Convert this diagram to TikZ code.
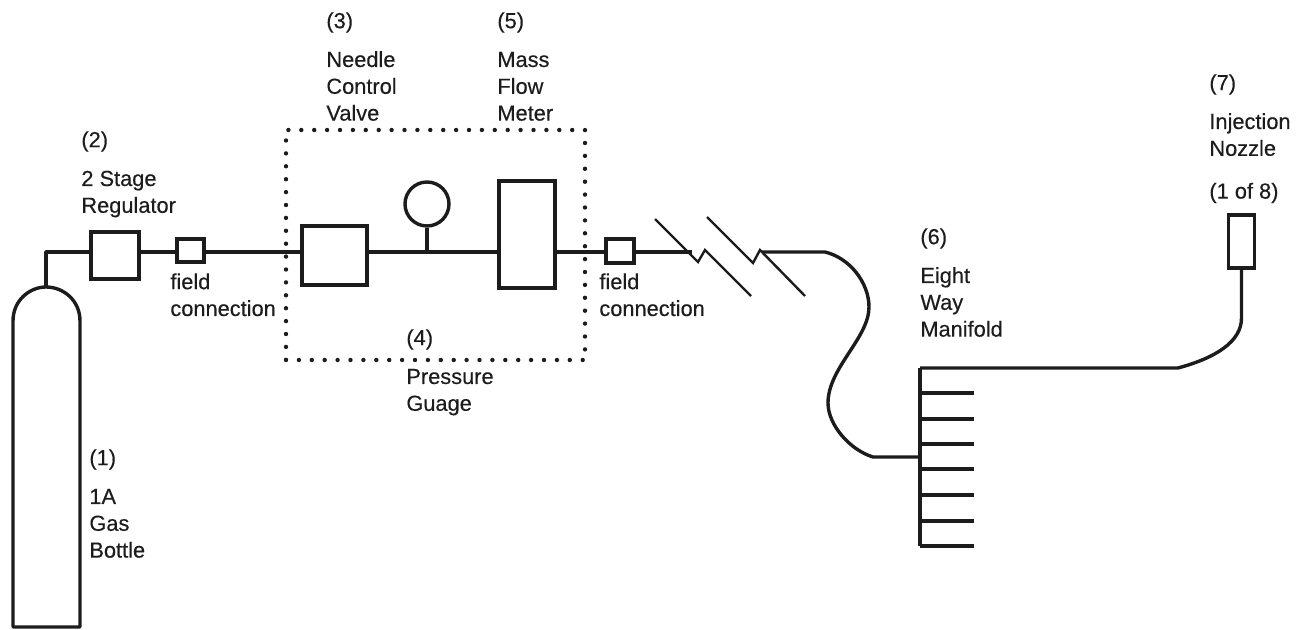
\documentclass[tikz,border=0pt]{standalone}
\usepackage{fontspec}
\setmainfont{Liberation Sans}[RawFeature={embolden=0.3}]
\usetikzlibrary{positioning}
\definecolor{tinta}{HTML}{1C1C1C}
\tikzset{
  pipe/.style={tinta,line width=1.7pt,line join=round},
  thinpipe/.style={tinta,line width=1.2pt,line join=miter},
  unitbox/.style={draw=tinta,line width=1.7pt,inner sep=0pt,fill=white},
  lbl/.style={tinta,font=\fontsize{10.9}{13.4}\selectfont,align=left,anchor=north west,inner sep=0pt}
}
\begin{document}
\begin{tikzpicture}[x=0.5pt,y=-0.5pt]
        \useasboundingbox (0,0) rectangle (1307,630);
        % bottle
        \draw[pipe] (13,627) -- (13,321) .. controls (13,300) and (30,287) .. (46,287)
          .. controls (63,287) and (80,300) .. (80,321) -- (80,627) -- cycle;
        \coordinate (bottletop) at (46,287);
        \coordinate (bend) at (46,252);
        % dotted enclosure
        \node[draw=tinta,line width=2.2pt,line cap=round,dash pattern=on 0pt off 6.45pt,
          minimum width=149.5pt,minimum height=115pt,inner sep=0pt] (enclosure) at (435.5,245) {};
        % units along the line
        \node[unitbox,minimum width=24pt,minimum height=23.5pt] (regulator) at (115,255.5) {};
        \node[unitbox,minimum width=13.5pt,minimum height=11.5pt] (fieldleft) at (190.5,250.5) {};
        \node[unitbox,minimum width=32.5pt,minimum height=29.5pt] (needle) at (334.5,255.5) {};
        \node[unitbox,minimum width=28pt,minimum height=53.5pt] (meter) at (527,234.5) {};
        \node[unitbox,circle,minimum size=22pt] (gauge) at (427,204) {};
        \node[unitbox,minimum width=14pt,minimum height=12pt] (fieldright) at (620,251) {};
        \node[unitbox,minimum width=13pt,minimum height=26.5pt] (nozzle) at (1241.5,241.5) {};
        \coordinate (gaugetee) at (427,252);
        \coordinate (breakin) at (692,252);
        \coordinate (breakout) at (762,252);
        \draw[pipe] (bottletop) -- (bend) -- (bend -| regulator.west);
        \draw[pipe] (regulator.east |- gaugetee) -- (gaugetee -| fieldleft.west);
        \draw[pipe] (gaugetee -| fieldleft.east) -- (gaugetee -| needle.west);
        \draw[pipe] (needle.east |- gaugetee) -- (gaugetee -| meter.west);
        \draw[pipe] (gauge.south) -- (gaugetee);
        \draw[pipe] (gaugetee -| meter.east) -- (gaugetee -| fieldright.west);
        \draw[pipe] (gaugetee -| fieldright.east) -- (breakin);
        % line breaks
        \draw[thinpipe] (655,219) -- (698,262) -- (705,250) -- (751,296);
        \draw[thinpipe] (707,217) -- (753,263) -- (760,250) -- (805,296);
        % manifold
        \coordinate (manifoldtop) at (920,368);
        \coordinate (manifoldin) at (920,457);
        \draw[pipe] (breakout) -- (825,252) .. controls (850,258) and (869,283) .. (869,307)
          .. controls (869,338) and (828,368) .. (828,403)
          .. controls (828,425) and (850,450) .. (873,457) -- (manifoldin);
        \draw[pipe] (manifoldtop) -- (920,546);
        \foreach \y in {393,419,444,469,495,521,546}
          \draw[pipe] (920,\y) -- (974,\y);
        \draw[pipe] (manifoldtop) -- (1178,368) .. controls (1215,358) and (1241.5,342) .. (1241.5,318) -- (nozzle.south);
        % labels
        \node[lbl] (lblbottle) at (89,449) {(1)\\[6pt]1A\\Gas\\Bottle};
        \node[lbl] (lblregulator) at (81,131) {(2)\\[6pt]2 Stage\\Regulator};
        \node[lbl] (lblfieldleft) at (170,273) {field\\connection};
        \node[lbl] (lblneedle) at (326,12) {(3)\\[6pt]Needle\\Control\\Valve};
        \node[lbl] (lblgauge) at (406,329) {(4)\\[6pt]Pressure\\Guage};
        \node[lbl] (lblmeter) at (497,12) {(5)\\[6pt]Mass\\Flow\\Meter};
        \node[lbl] (lblfieldright) at (599,273) {field\\connection};
        \node[lbl] (lblmanifold) at (920,228) {(6)\\[6pt]Eight\\Way\\Manifold};
        \node[lbl] (lblnozzle) at (1209,74) {(7)\\[6pt]Injection\\Nozzle\\[8pt](1 of 8)};
      \end{tikzpicture}
\end{document}
